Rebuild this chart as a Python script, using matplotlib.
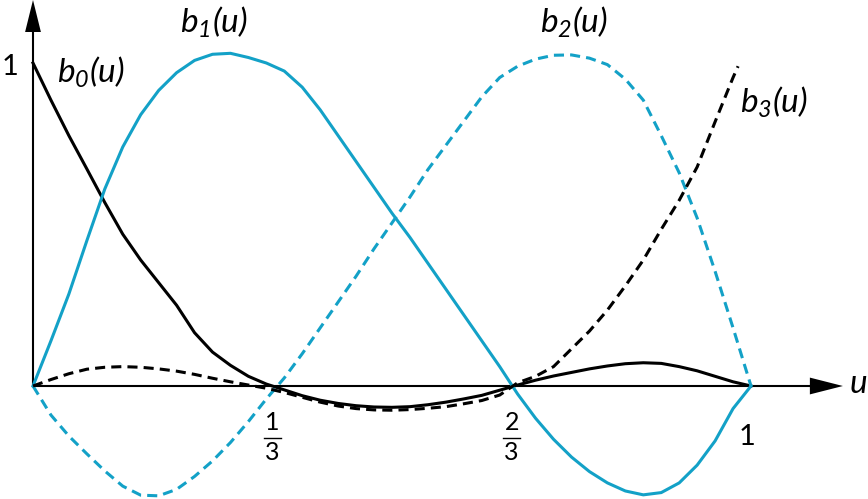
import numpy as np
import matplotlib
matplotlib.use("Agg")
import matplotlib.pyplot as plt

plt.rcParams["font.family"] = ["Lato", "DejaVu Sans"]
plt.rcParams["mathtext.fontset"] = "custom"
plt.rcParams["mathtext.rm"] = "Lato:italic"
plt.rcParams["mathtext.it"] = "Lato:italic"

# values
u = np.linspace(0, 1, 41)

b0 = [1.00, 0.885, 0.775, 0.672, 0.568, 0.470, 0.390, 0.320, 0.250, 0.165,
      0.105, 0.064, 0.030, 0.006, -0.012, -0.030, -0.044, -0.054, -0.061, -0.065,
      -0.066, -0.064, -0.058, -0.050, -0.040, -0.029, -0.013, 0.003, 0.018, 0.031,
      0.042, 0.053, 0.062, 0.069, 0.072, 0.070, 0.060, 0.047, 0.030, 0.013, 0.0]

b1 = [0.0, 0.14, 0.285, 0.45, 0.61, 0.74, 0.84, 0.915, 0.97, 1.008,
      1.027, 1.03, 1.017, 1.0, 0.975, 0.925, 0.855, 0.775, 0.695, 0.615,
      0.535, 0.46, 0.38, 0.30, 0.22, 0.14, 0.06, -0.025, -0.10, -0.165,
      -0.22, -0.265, -0.30, -0.325, -0.337, -0.33, -0.30, -0.245, -0.17, -0.07, 0.0]

b2 = [0.0, -0.09, -0.155, -0.21, -0.263, -0.31, -0.338, -0.34, -0.32, -0.28,
      -0.232, -0.175, -0.11, -0.04, 0.025, 0.10, 0.18, 0.26, 0.34, 0.425,
      0.505, 0.585, 0.67, 0.745, 0.82, 0.895, 0.955, 0.99, 1.012, 1.024,
      1.025, 1.015, 0.995, 0.95, 0.885, 0.775, 0.66, 0.52, 0.355, 0.18, 0.0]

u3 = list(np.linspace(0, 0.975, 40)) + [0.982]
b3 = [0.0, 0.02, 0.038, 0.052, 0.058, 0.06, 0.058, 0.053, 0.046, 0.036,
      0.024, 0.013, 0.003, -0.007, -0.02, -0.035, -0.05, -0.062, -0.07, -0.074,
      -0.075, -0.073, -0.069, -0.064, -0.055, -0.045, -0.028, 0.01, 0.03, 0.06,
      0.115, 0.17, 0.235, 0.31, 0.39, 0.485, 0.575, 0.678, 0.818, 0.955, 0.99]

cyan = "#13a1c7"
px_u, px_v = 718.0, 323.0  # pixels per unit

fig = plt.figure(figsize=(8.68, 4.99), dpi=100)
ax = fig.add_axes([0, 0, 1, 1])
ax.set_xlim(-33 / px_u, 835 / px_u)
ax.set_ylim(-113 / px_v, 386 / px_v)
ax.axis("off")

# axes with arrowheads
ax.plot([0, 1.085], [0, 0], color="black", lw=1.5, solid_capstyle="butt")
ax.plot([0, 0], [0, 1.1], color="black", lw=1.5, solid_capstyle="butt")
ax.fill([1.082, 1.128, 1.082], [0.026, 0, -0.026], color="black", lw=0)
ax.fill([-0.011, 0, 0.011], [1.096, 1.195, 1.096], color="black", lw=0)

ax.plot(u, b0, color="black", lw=2.2)
ax.plot(u, b1, color=cyan, lw=2.2)
ax.plot(u, b2, color=cyan, lw=2.2, dashes=(3.3, 2.0))
ax.plot(u3, b3, color="black", lw=2.2, dashes=(3.3, 2.0))

lab = dict(fontsize=24, ha="left", va="baseline")
ax.text(0.033, 0.938, r"$\mathrm{b_0(u)}$", **lab)
ax.text(0.205, 1.093, r"$\mathrm{b_1(u)}$", **lab)
ax.text(0.706, 1.093, r"$\mathrm{b_2(u)}$", **lab)
ax.text(0.985, 0.845, r"$\mathrm{b_3(u)}$", **lab)
ax.text(1.137, -0.022, r"$\mathrm{u}$", **lab)

ax.text(-0.032, 0.988, "1", fontsize=21, ha="center", va="center")
ax.text(0.994, -0.158, "1", fontsize=21, ha="center", va="center")
for t, num in [(1 / 3, "1"), (2 / 3, "2")]:
    ax.text(t, -0.113, num, fontsize=18, ha="center", va="center")
    ax.text(t, -0.205, "3", fontsize=18, ha="center", va="center")
    ax.plot([t - 0.012, t + 0.012], [-0.161, -0.161], color="black", lw=1)

fig.savefig("out.png", dpi=100)
